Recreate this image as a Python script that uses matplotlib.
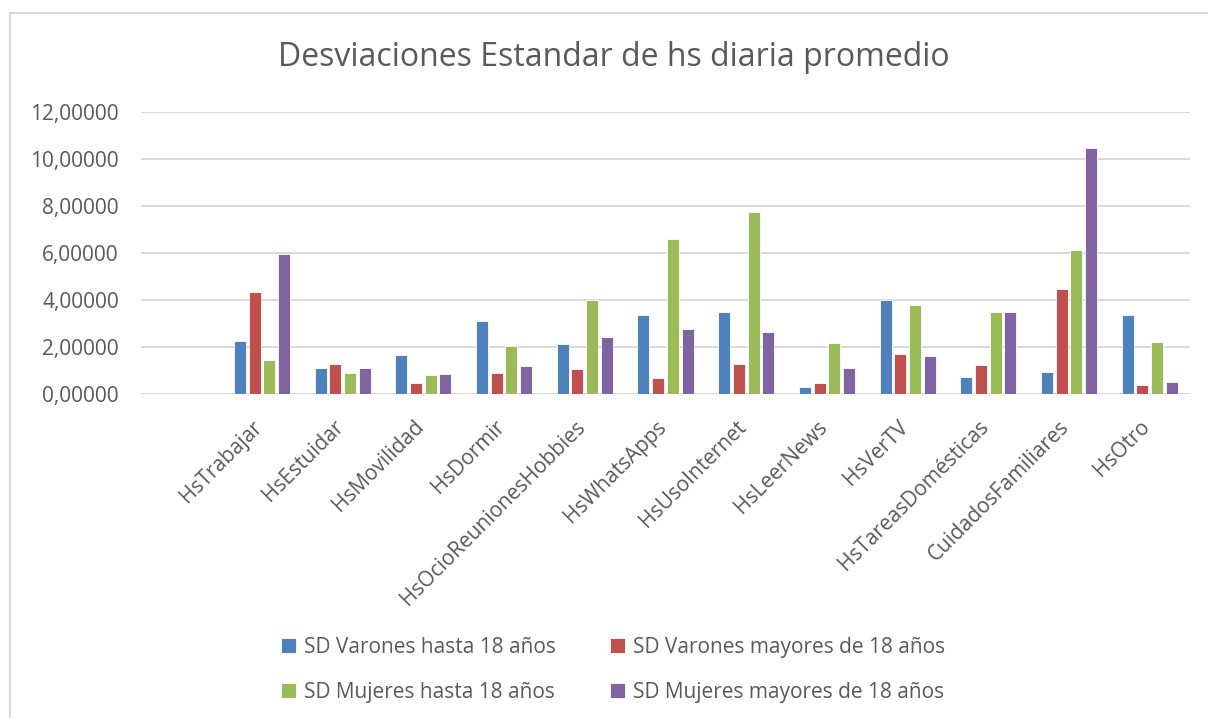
import numpy as np
import matplotlib
matplotlib.use("Agg")
import matplotlib.pyplot as plt
from matplotlib.lines import Line2D
from matplotlib.transforms import ScaledTranslation

categorias = ["HsTrabajar", "HsEstuidar", "HsMovilidad", "HsDormir",
              "HsOcioReunionesHobbies", "HsWhatsApps", "HsUsoInternet",
              "HsLeerNews", "HsVerTV", "HsTareasDomésticas",
              "CuidadosFamiliares", "HsOtro"]

varones_hasta18 = [2.27, 1.09, 1.66, 3.11, 2.12, 3.38, 3.51, 0.31, 4.02, 0.73, 0.92, 3.37]
varones_mayores18 = [4.34, 1.29, 0.48, 0.91, 1.08, 0.68, 1.28, 0.47, 1.71, 1.24, 4.45, 0.37]
mujeres_hasta18 = [1.45, 0.91, 0.81, 2.06, 4.00, 6.60, 7.75, 2.18, 3.77, 3.51, 6.13, 2.20]
mujeres_mayores18 = [5.96, 1.12, 0.87, 1.18, 2.43, 2.76, 2.64, 1.11, 1.62, 3.47, 10.47, 0.51]

series = [
    ("SD Varones hasta 18 años", varones_hasta18, "#4F81BD"),
    ("SD Varones mayores de 18 años", varones_mayores18, "#C0504D"),
    ("SD Mujeres hasta 18 años", mujeres_hasta18, "#9BBB59"),
    ("SD Mujeres mayores de 18 años", mujeres_mayores18, "#8064A2"),
]

gris = "#595959"
plt.rcParams["font.family"] = ["Open Sans", "DejaVu Sans"]

fig = plt.figure(figsize=(12.08, 7.18), dpi=100)
ax = fig.add_axes([141 / 1208, 1 - 394 / 718, (1190 - 141) / 1208, (394 - 112) / 718])

x = np.arange(len(categorias))
paso = 0.182
ancho = 0.149
handles = []
for i, (nombre, vals, color) in enumerate(series):
    b = ax.bar(x + (i - 1.5) * paso, vals, width=ancho, color=color,
               edgecolor="white", linewidth=0.6, label=nombre, zorder=3)
    handles.append(b)

ax.set_xlim(-1.5, len(categorias) - 0.5)
ax.set_ylim(0, 12)
ax.set_yticks(np.arange(0, 13, 2))
ax.set_yticklabels([f"{v:.5f}".replace(".", ",") for v in np.arange(0, 13, 2)])
ax.grid(axis="y", color="#D9D9D9", linewidth=1.4, zorder=0)
for s in ax.spines.values():
    s.set_visible(False)
ax.tick_params(axis="both", length=0, labelsize=15, colors=gris)
ax.tick_params(axis="y", pad=16)
ax.set_xticks(x)
ax.set_xticklabels(categorias, rotation=45, ha="right", rotation_mode="anchor")
ax.tick_params(axis="x", pad=16)
desplaza = ScaledTranslation(-10 / 100, 0, fig.dpi_scale_trans)
for lab in ax.get_xticklabels():
    lab.set_transform(lab.get_transform() + desplaza)

fig.text(614 / 1208, 1 - 58 / 718, "Desviaciones Estandar de hs diaria promedio",
         ha="center", va="center", fontsize=23, color=gris)

# orden por filas como en el original
orden = [handles[0], handles[2], handles[1], handles[3]]
fig.legend(handles=orden, ncol=2, loc="center", bbox_to_anchor=(613 / 1208, 1 - 670 / 718),
           frameon=False, fontsize=15, labelcolor=gris, handlelength=0.7,
           handleheight=0.7, handletextpad=0.4, columnspacing=2.6, labelspacing=1.15)

# marco exterior del grafico
fig.add_artist(Line2D([10 / 1208, 10 / 1208], [0, 1 - 13 / 718], color="#D9D9D9", linewidth=1.5))
fig.add_artist(Line2D([10 / 1208, 1], [1 - 13 / 718, 1 - 13 / 718], color="#D9D9D9", linewidth=1.5))

fig.savefig("out.png", dpi=100)
